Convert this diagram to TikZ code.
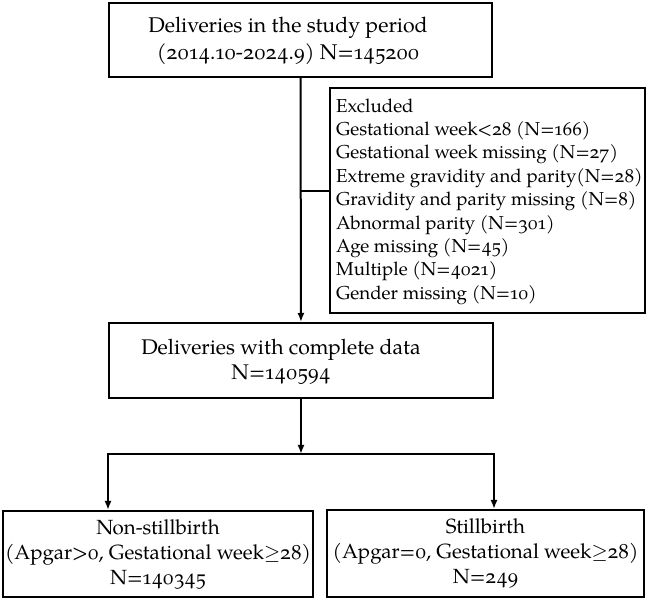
\documentclass[tikz,border=0pt]{standalone}
\usepackage{fontspec}
\setmainfont{TeX Gyre Pagella}[Numbers=OldStyle]
\usetikzlibrary{arrows.meta}

\tikzset{
	box/.style={draw, line width=2pt, inner sep=0pt},
	txt/.style={align=center, inner sep=0pt, font=\fontsize{20.5}{25}\selectfont},
	flow/.style={line width=2pt, -{Latex[length=9pt,width=7pt]}},
	link/.style={line width=2pt}
}

\begin{document}
\begin{tikzpicture}[x=1pt,y=-1pt]
	\useasboundingbox (0,0) rectangle (646,601);

	% top of the flow
	\node[box, minimum width=383pt, minimum height=74pt] (study) at (300.5,40) {};
		\node[txt, font=\fontsize{21.3}{27}\selectfont] (studytxt) at (288,41) {Deliveries in the study period\\(2014.10-2024.9) N=145200};

	% excluded records
	\node[box, anchor=north west, minimum width=315pt, minimum height=225pt] (excl) at (329,87) {};
		\node[txt, anchor=west, align=left, font=\fontsize{18.7}{23.4}\selectfont] (excltxt) at ([xshift=7pt,yshift=-1pt]excl.west) {Excluded\\
		Gestational week<28 (N=166)\\
		Gestational week missing (N=27)\\
		Extreme gravidity and parity(N=28)\\
		Gravidity and parity missing (N=8)\\
		Abnormal parity (N=301)\\
		Age missing (N=45)\\
		Multiple (N=4021)\\
		Gender missing (N=10)};

	% complete data
	\node[box, minimum width=384pt, minimum height=75pt] (complete) at (301,360.5) {};
		\node[txt, font=\fontsize{21.2}{25}\selectfont] (completetxt) at (281,362) {Deliveries with complete data\\N=140594};

	% outcome groups
	\node[box, txt, minimum width=310pt, minimum height=86pt] (live) at (158,554) {Non-stillbirth\\(Apgar>0, Gestational week$\geq$28)\\N=140345};
	\node[box, txt, minimum width=317pt, minimum height=87pt] (still) at (485.5,553.5) {Stillbirth\\(Apgar=0, Gestational week$\geq$28)\\N=249};

	% connectors
	\coordinate (split) at (300.5,191);
	\coordinate (fork) at (301,454);
	\draw[flow] (study) -- (complete);
	\draw[link] (split) -- (split -| excl.west);
	\draw[flow] (complete) -- (fork);
	\draw[flow] (fork) -| (complete.west |- live.north);
	\draw[flow] (fork) -| (complete.east |- still.north);
\end{tikzpicture}
\end{document}
